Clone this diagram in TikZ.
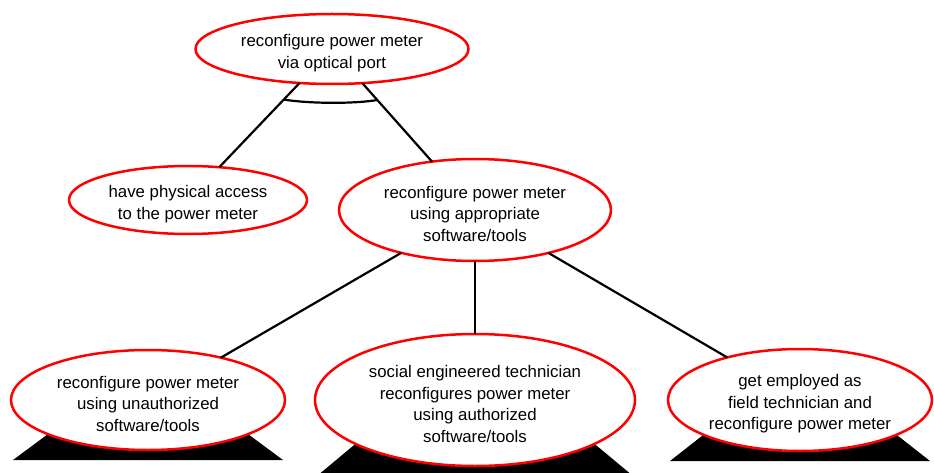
\documentclass[tikz,border=0pt]{standalone}
\usepackage{fontspec}
\setmainfont{Liberation Sans}
\usetikzlibrary{shapes.geometric,calc,backgrounds}
\newcommand\tstrut{\rule{0pt}{20pt}}
\tikzset{
  goal/.style={ellipse, draw=red, line width=2.5pt, fill=white, inner sep=0pt, outer sep=0pt,
    align=center, font=\fontsize{16.8}{21.5}\selectfont},
  edge/.style={draw=black, line width=2.2pt},
  leaf/.style={fill=black}
}
\begin{document}
\begin{tikzpicture}[x=1pt,y=-1pt]
\useasboundingbox (0,0) rectangle (934,473);
\clip (0,0) rectangle (934,473);
\node[goal, minimum width=273pt, minimum height=70pt] (top) at (332,49) {\tstrut reconfigure power meter\\via optical port};
\node[goal, minimum width=238pt, minimum height=68pt] (phys) at (188,200) {\tstrut have physical access\\to the power meter};
\node[goal, minimum width=272pt, minimum height=102pt] (mid) at (475,210) {\tstrut reconfigure power meter\\using appropriate\\software/tools};
\node[goal, minimum width=274pt, minimum height=100pt] (bl) at (148,400) {\tstrut reconfigure power meter\\using unauthorized\\software/tools};
\node[goal, minimum width=320pt, minimum height=132pt] (bm) at (475,400) {\tstrut social engineered technician\\reconfigures power meter\\using authorized\\software/tools};
\node[goal, minimum width=264pt, minimum height=102pt] (br) at (800,400) {\tstrut get employed as\\field technician and\\reconfigure power meter};
\begin{pgfonlayer}{background}
\foreach \n in {bl,bm,br}{
  \fill[leaf] ($(\n.north)+(0,10)$) -- ($(\n.west |- \n.south)+(2,10)$) -- ($(\n.east |- \n.south)+(-2,10)$) -- cycle;
}
\end{pgfonlayer}
\draw[edge] (top) -- (phys);
\draw[edge] (top) -- (mid);
\draw[edge] (mid) -- (bl);
\draw[edge] (mid) -- (bm);
\draw[edge] (mid) -- (br);
\coordinate (and1) at ($(top.center)!0.335!(phys.center)$);
\coordinate (and2) at ($(top.center)!0.317!(mid.center)$);
\draw[edge] (and1) .. controls ($(and1)+(25,4)$) and ($(and2)+(-25,4)$) .. (and2);
\end{tikzpicture}
\end{document}
